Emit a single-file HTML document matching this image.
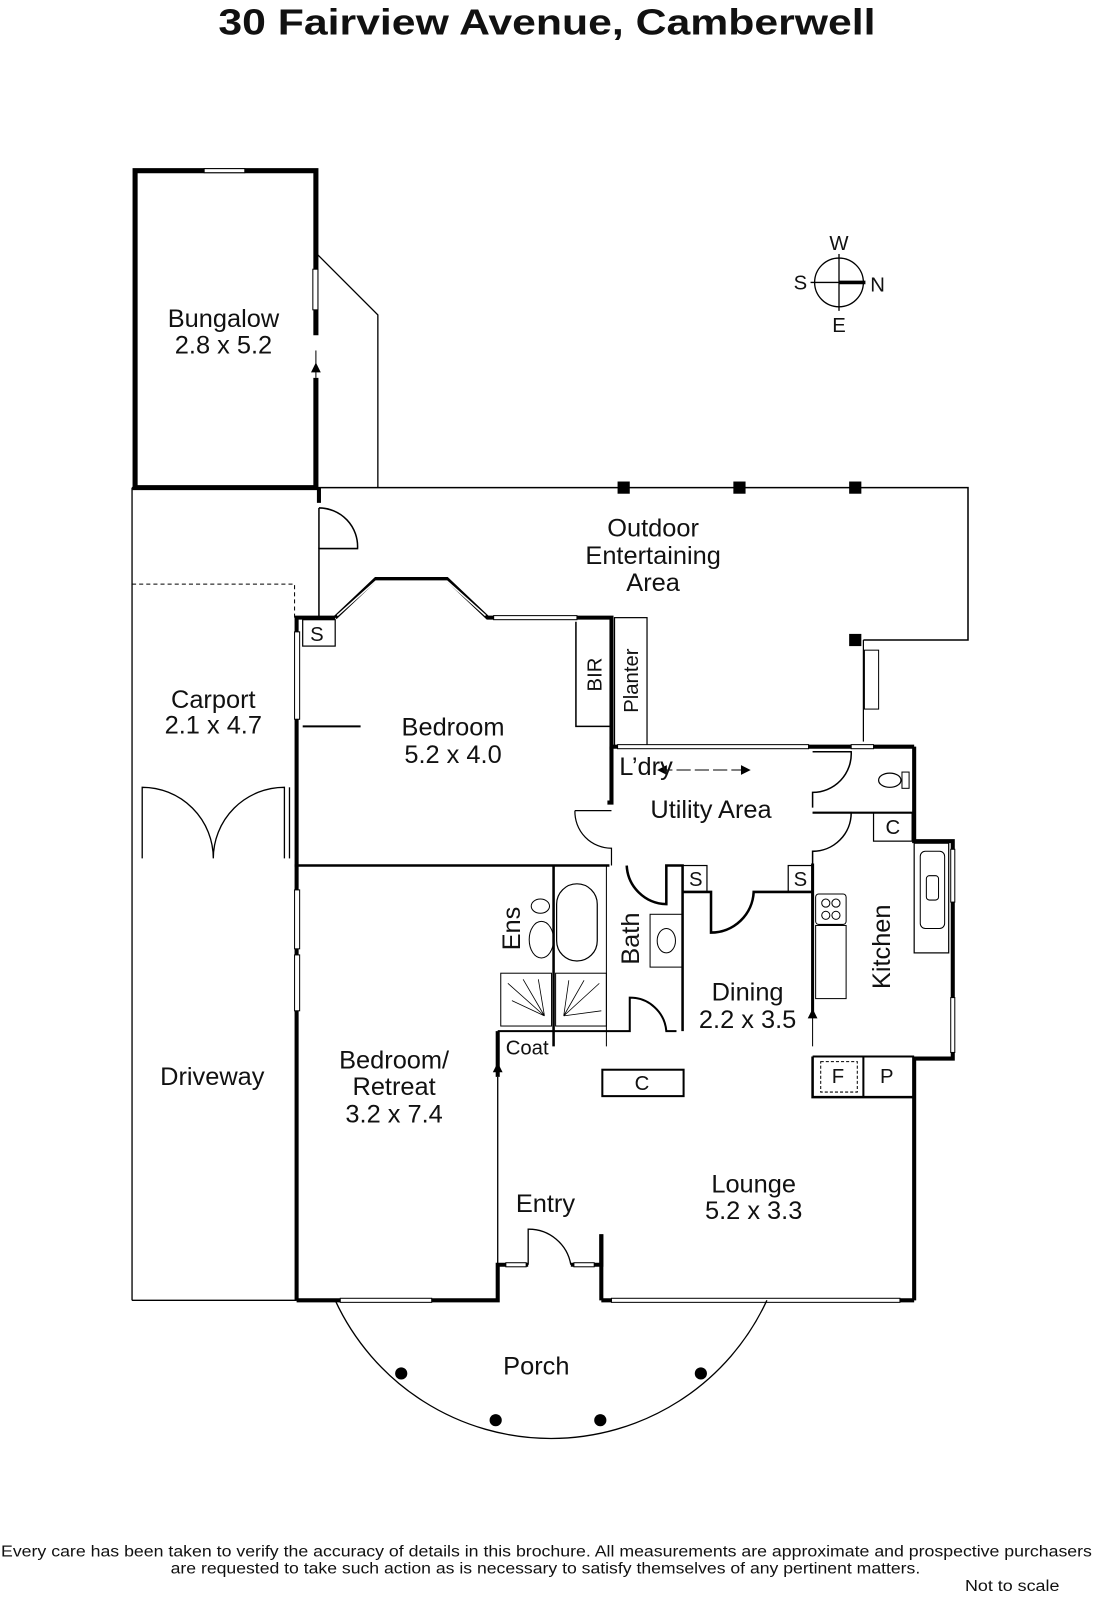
<!DOCTYPE html>
<html><head><meta charset="utf-8"><style>
html,body{margin:0;padding:0;background:#fff;}
svg{display:block;}
text{font-family:"Liberation Sans",sans-serif;fill:#111;}
</style></head><body>
<svg width="1097" height="1600" viewBox="0 0 1080 1575" preserveAspectRatio="none" xmlns="http://www.w3.org/2000/svg">
<rect width="1080" height="1575" fill="#fff"/>
<text x="215" y="34" font-size="36" font-weight="bold" textLength="647" lengthAdjust="spacingAndGlyphs">30 Fairview Avenue, Camberwell</text>

<g stroke="#000" fill="none">
<path d="M133,168 H311 V480 H133 Z" stroke-width="5"/>
<rect x="201" y="166" width="40" height="4" fill="#fff" stroke-width="1"/>
<rect x="308" y="265" width="5" height="40" fill="#fff" stroke-width="1"/>
<line x1="311" y1="330" x2="311" y2="372" stroke="#fff" stroke-width="7"/>
<line x1="311" y1="345" x2="311" y2="372" stroke-width="1"/>
<path d="M307,366 L311,358 L315,366Z" fill="#000"/>
<polyline points="312,250 372,310 372,480" stroke-width="1.3"/>

<polyline points="130,480 953,480 953,630 850,630" stroke-width="1.5"/>
<line x1="850" y1="630" x2="850" y2="730" stroke-width="1.2"/>
<rect x="851" y="640" width="14" height="58" stroke-width="1"/>
<line x1="130" y1="480" x2="130" y2="1280" stroke-width="1.3"/>
<line x1="130" y1="1280" x2="292" y2="1280" stroke-width="1.3"/>
<polyline points="130,575 290,575 290,608" stroke-width="1" stroke-dasharray="4,3"/>
<polyline points="314,480 314,495" stroke-width="4"/>
<path d="M314,500 A38,38 0 0 1 352,540 H314 V608" stroke-width="1.5"/>
<line x1="314" y1="540" x2="314" y2="500" stroke-width="1.5"/>

<path d="M140,845 V775 A70,70 0 0 1 210,845 A70,70 0 0 1 280,775 V845" stroke-width="1.3"/>
<line x1="285" y1="775" x2="285" y2="845" stroke-width="1.3"/>

<path d="M292,1280 V608 H330" stroke-width="4"/>
<polyline points="330,608 370,570 440,570 480,608 568,608" stroke-width="4"/>
<polyline points="332,606 370,572 440,572 478,606" stroke="#fff" stroke-width="1.5"/>
<rect x="486" y="606" width="82" height="4" fill="#fff" stroke-width="1"/>
<rect x="290" y="622" width="5" height="86" fill="#fff" stroke-width="1"/>
<rect x="298" y="610" width="32" height="26" stroke-width="1.2"/>
<line x1="298" y1="715" x2="355" y2="715" stroke-width="2"/>
<path d="M568,608 H602 V738" stroke-width="4"/>
<path d="M567,612 V715 H602" stroke-width="1.5"/>
<rect x="605" y="608" width="32" height="126" stroke-width="1.2"/>
<path d="M602,735 V790 H598" stroke-width="4"/>
<line x1="290" y1="852" x2="600" y2="852" stroke-width="2.5"/>
<rect x="290" y="876" width="5" height="58" fill="#fff" stroke-width="1"/>
<rect x="290" y="940" width="5" height="55" fill="#fff" stroke-width="1"/>
<line x1="602" y1="735" x2="900" y2="735" stroke-width="4"/>
<rect x="608" y="733" width="188" height="4" fill="#fff" stroke-width="1"/>
<rect x="838" y="733" width="22" height="4" fill="#fff" stroke-width="1"/>
<path d="M566,798 A36,36 0 0 0 602,835 V852" stroke-width="1.2"/>
<line x1="566" y1="798" x2="602" y2="798" stroke-width="1.2"/>
<line x1="648" y1="758" x2="738" y2="758" stroke-width="1" stroke-dasharray="14,4"/>
<path d="M648,758 l8,-4 v8z M738,758 l-8,-4 v8z" fill="#000"/>
<path d="M900,735 V828 H938 V1042 H900 V1280" stroke-width="4"/>
<path d="M800,740 H838 A38,38 0 0 1 800,780 V795" stroke-width="1.5"/>
<line x1="800" y1="800" x2="900" y2="800" stroke-width="2"/>
<path d="M800,800 H838 A38,38 0 0 1 800,838 V1000" stroke-width="1.5"/>
<line x1="800" y1="850" x2="800" y2="1000" stroke-width="3"/>
<ellipse cx="876" cy="768" rx="11" ry="7" stroke-width="1.2"/>
<rect x="888" y="760" width="7" height="16" stroke-width="1"/>
<rect x="860" y="800" width="38" height="28" stroke-width="1.2"/>
<rect x="900" y="830" width="34" height="108" stroke-width="1.2"/>
<rect x="906" y="838" width="24" height="76" rx="5" stroke-width="1"/>
<rect x="912" y="862" width="12" height="24" rx="3" stroke-width="1"/>
<rect x="936" y="836" width="4" height="52" fill="#fff" stroke-width="1"/>
<rect x="936" y="982" width="4" height="54" fill="#fff" stroke-width="1"/>
<rect x="803" y="880" width="30" height="30" rx="3" stroke-width="1"/>
<circle cx="813" cy="889" r="4" stroke-width="1"/><circle cx="823" cy="889" r="4" stroke-width="1"/>
<circle cx="813" cy="901" r="4" stroke-width="1"/><circle cx="823" cy="901" r="4" stroke-width="1"/>
<rect x="803" y="911" width="30" height="72" stroke-width="1"/>
<line x1="800" y1="988" x2="800" y2="1030" stroke-width="1"/>
<path d="M796,1002 l4,-8 l4,8z" fill="#000"/>
<path d="M800,1040 V1080 H900" stroke-width="2.5"/>
<line x1="800" y1="1040" x2="900" y2="1040" stroke-width="2"/>
<line x1="850" y1="1040" x2="850" y2="1080" stroke-width="2"/>
<rect x="808" y="1045" width="36" height="30" stroke-width="1" stroke-dasharray="3,2"/>
<line x1="545" y1="852" x2="545" y2="1030" stroke-width="2.5"/>
<path d="M597,852 V1030" stroke-width="1"/>
<rect x="548" y="870" width="40" height="76" rx="20" stroke-width="1.2"/>
<ellipse cx="533" cy="925" rx="12" ry="18" stroke-width="1"/>
<ellipse cx="532" cy="892" rx="9" ry="7" stroke-width="1"/>
<rect x="493" y="958" width="50" height="52" stroke-width="1"/>
<rect x="547" y="958" width="50" height="52" stroke-width="1"/>
<path d="M500,968 L536,1000 M515,964 L536,1000 M530,964 L536,1000 M504,985 L536,1000 M555,1000 L590,968 M555,1000 L560,965 M555,1000 L575,965 M555,1000 L592,995" stroke-width="0.8"/>
<path d="M490,1015 H620 V982 A36,36 0 0 1 656,1015 H666" stroke-width="2"/>
<path d="M490,1015 V1060" stroke-width="4"/>
<line x1="490" y1="1060" x2="490" y2="1245" stroke-width="1.3"/>
<path d="M486,1055 l4,-8 l4,8z" fill="#000"/>
<rect x="640" y="900" width="32" height="52" stroke-width="1"/>
<ellipse cx="656" cy="926" rx="9" ry="12" stroke-width="1"/>
<path d="M617,852 A40,40 0 0 0 656,890 V852 H672 V1015" stroke-width="2.5"/>
<rect x="672" y="852" width="24" height="26" stroke-width="1.2"/>
<rect x="776" y="852" width="24" height="26" stroke-width="1.2"/>
<path d="M672,878 H700 V918 A42,42 0 0 0 742,878 H800" stroke-width="2.5"/>
<rect x="593" y="1053" width="80" height="26" stroke-width="2"/>
<path d="M292,1280 H490 V1245 H520 M562,1245 H592 V1215 M592,1280 H900" stroke-width="4"/>
<path d="M592,1215 V1280" stroke-width="4"/>
<path d="M520,1245 V1210 A42,42 0 0 1 562,1245" stroke-width="1.3"/>
<rect x="498" y="1243" width="20" height="4" fill="#fff" stroke-width="1"/>
<rect x="565" y="1243" width="20" height="4" fill="#fff" stroke-width="1"/>
<rect x="335" y="1278" width="90" height="4" fill="#fff" stroke-width="1"/>
<rect x="602" y="1278" width="284" height="4" fill="#fff" stroke-width="1"/>
<path d="M330,1280 A234,234 0 0 0 755,1280" stroke-width="1.3"/>
</g>
<g fill="#000">
<rect x="608" y="474" width="12" height="12"/><rect x="722" y="474" width="12" height="12"/><rect x="836" y="474" width="12" height="12"/><rect x="836" y="624" width="12" height="12"/>
<circle cx="395" cy="1352" r="6"/><circle cx="488" cy="1398" r="6"/><circle cx="591" cy="1398" r="6"/><circle cx="690" cy="1352" r="6"/>
</g>
<g stroke="#000" fill="none" stroke-width="1.3">
<circle cx="826" cy="278" r="24"/>
<line x1="826" y1="250" x2="826" y2="306"/>
<line x1="798" y1="278" x2="826" y2="278"/>
<line x1="826" y1="278" x2="852" y2="278" stroke-width="3.5"/>
</g>
<g font-size="20" text-anchor="middle">
<text x="826" y="246">W</text><text x="788" y="285">S</text><text x="864" y="287">N</text><text x="826" y="327">E</text>
</g>
<g font-size="25" text-anchor="middle">
<text x="220" y="322">Bungalow</text><text x="220" y="348">2.8 x 5.2</text>
<text x="643" y="528">Outdoor</text><text x="643" y="555">Entertaining</text><text x="643" y="582">Area</text>
<text x="210" y="697">Carport</text><text x="210" y="722">2.1 x 4.7</text>
<text x="446" y="724">Bedroom</text><text x="446" y="751">5.2 x 4.0</text>
<text x="700" y="805">Utility Area</text>
<text x="636" y="763">L’dry</text>
<text x="209" y="1068">Driveway</text>
<text x="388" y="1052">Bedroom/</text><text x="388" y="1078">Retreat</text><text x="388" y="1105">3.2 x 7.4</text>
<text x="736" y="985">Dining</text><text x="736" y="1012">2.2 x 3.5</text>
<text x="742" y="1174">Lounge</text><text x="742" y="1200">5.2 x 3.3</text>
<text x="537" y="1193">Entry</text>
<text x="528" y="1353">Porch</text>
</g>
<g font-size="20" text-anchor="middle">
<text x="312" y="631">S</text><text x="685" y="872">S</text><text x="788" y="872">S</text>
<text x="879" y="821">C</text><text x="632" y="1073">C</text><text x="825" y="1066">F</text><text x="873" y="1066">P</text>
<text x="519" y="1038">Coat</text>
<text transform="translate(592,664) rotate(-90)">BIR</text>
<text transform="translate(628,670) rotate(-90)">Planter</text>
<text transform="translate(512,914) rotate(-90)" font-size="25">Ens</text>
<text transform="translate(629,924) rotate(-90)" font-size="25">Bath</text>
<text transform="translate(876,932) rotate(-90)" font-size="25">Kitchen</text>
</g>
<g font-size="15">
<text x="1" y="1532" textLength="1074" lengthAdjust="spacingAndGlyphs">Every care has been taken to verify the accuracy of details in this brochure.  All measurements are approximate and prospective purchasers</text>
<text x="168" y="1549" textLength="738" lengthAdjust="spacingAndGlyphs">are requested to take such action as is necessary to satisfy themselves of any pertinent matters.</text>
<text x="950" y="1566" textLength="93" lengthAdjust="spacingAndGlyphs">Not to scale</text>
</g>
</svg>
</body></html>
